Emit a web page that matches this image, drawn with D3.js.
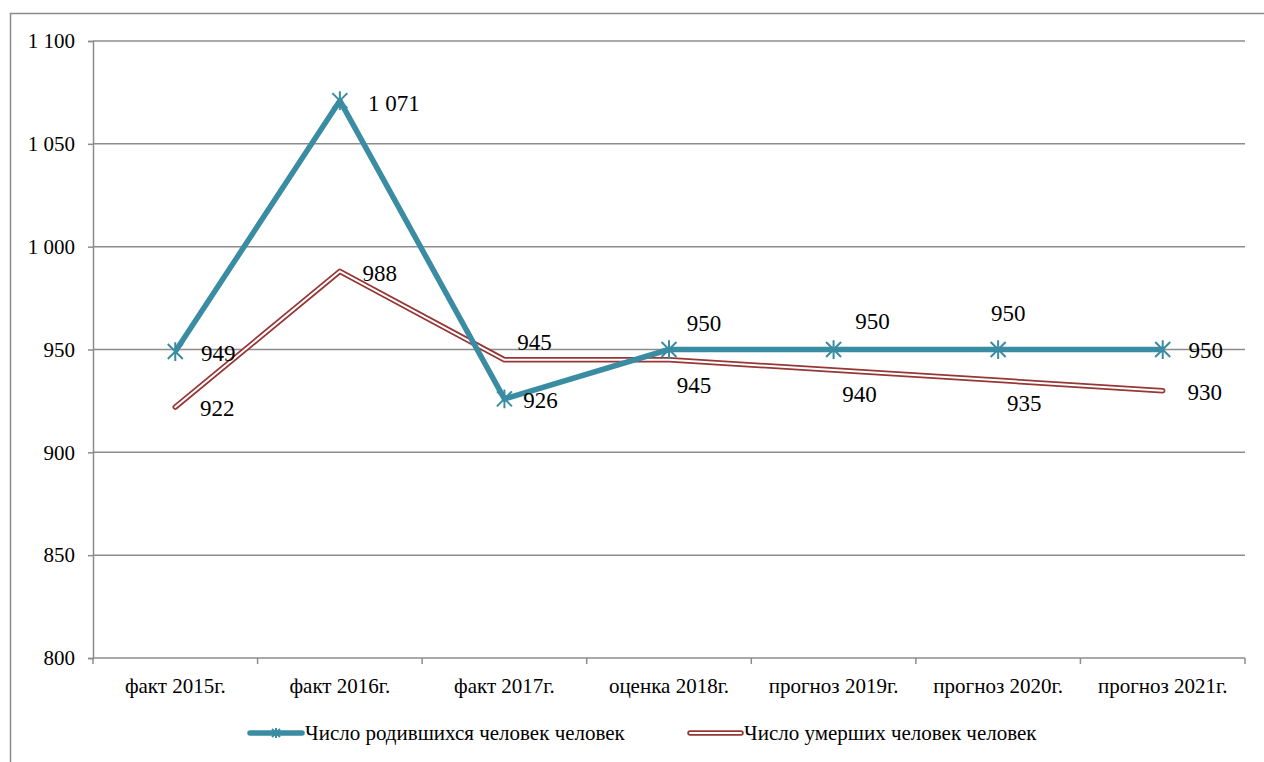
<!DOCTYPE html>
<html>
<head>
<meta charset="utf-8">
<script src="https://cdn.jsdelivr.net/npm/d3@7"></script>
<style>
  body { margin: 0; background: #fff; }
  svg text { font-family: "Liberation Serif", "Times New Roman", serif; fill: #000; }
</style>
</head>
<body>
<svg id="chart" width="1264" height="762"></svg>
<script>
var categories = ['факт 2015г.', 'факт 2016г.', 'факт 2017г.', 'оценка 2018г.', 'прогноз 2019г.', 'прогноз 2020г.', 'прогноз 2021г.'];
var births = [949, 1071, 926, 950, 950, 950, 950];
var deaths = [922, 988, 945, 945, 940, 935, 930];
var yTicks = [800, 850, 900, 950, 1000, 1050, 1100];
var seriesNames = ['Число родившихся человек человек', 'Число умерших человек человек'];

// label placement relative to each point: [dx, dy] from point to label centre
var birthLabelOffsets = [[43, 1], [54, 2], [36, 1], [35, -27], [39, -29], [10, -37], [43, 0]];
var deathLabelOffsets = [[42, 1], [40, 2], [30, -18], [25, 25], [26, 24], [26, 23], [42, 1]];

var blue = '#3a8ca2';
var red = '#953735';

var margin = { left: 93, top: 41, right: 1245, bottom: 658 };

var svg = d3.select('#chart');

// outer chart border (runs off the right and bottom edges)
svg.append('rect')
    .attr('x', 10.5).attr('y', 13.5)
    .attr('width', 1300).attr('height', 800)
    .attr('fill', 'none').attr('stroke', '#8c8c8c').attr('stroke-width', 1.5);

var x = d3.scaleBand().domain(categories).range([margin.left, margin.right]);
var y = d3.scaleLinear().domain([800, 1100]).range([margin.bottom, margin.top]);

function fmt(v) {
    var s = String(v);
    return s.length > 3 ? s.slice(0, s.length - 3) + ' ' + s.slice(-3) : s;
}

// gridlines
svg.append('g').selectAll('line').data(yTicks.slice(1)).enter().append('line')
    .attr('x1', margin.left).attr('x2', margin.right)
    .attr('y1', function (d) { return y(d); }).attr('y2', function (d) { return y(d); })
    .attr('stroke', '#8c8c8c').attr('stroke-width', 1.5);

// y axis
var yAxis = svg.append('g').attr('transform', 'translate(' + margin.left + ',0)')
    .call(d3.axisLeft(y).tickValues(yTicks).tickSize(5).tickPadding(13).tickFormat(fmt));
yAxis.attr('font-family', null);
yAxis.select('.domain').attr('stroke', '#8c8c8c').attr('stroke-width', 1.5);
yAxis.selectAll('.tick line').attr('stroke', '#8c8c8c').attr('stroke-width', 1.5);
yAxis.selectAll('.tick text').attr('font-size', 21).attr('fill', '#000');

// x axis with ticks between categories
var xAxis = svg.append('g').attr('transform', 'translate(0,' + margin.bottom + ')');
xAxis.append('line')
    .attr('x1', margin.left).attr('x2', margin.right)
    .attr('stroke', '#8c8c8c').attr('stroke-width', 1.5);
var bounds = categories.map(function (c) { return x(c); }).concat([margin.right]);
xAxis.selectAll('.xt').data(bounds).enter().append('line')
    .attr('x1', function (d) { return d; }).attr('x2', function (d) { return d; })
    .attr('y1', 0).attr('y2', 6)
    .attr('stroke', '#8c8c8c').attr('stroke-width', 1.5);
xAxis.selectAll('text').data(categories).enter().append('text')
    .attr('x', function (d) { return x(d) + x.bandwidth() / 2; })
    .attr('y', 35)
    .attr('text-anchor', 'middle')
    .attr('font-size', 21)
    .text(function (d) { return d; });

function cx(i) { return x(categories[i]) + x.bandwidth() / 2; }

var line = d3.line()
    .x(function (d, i) { return cx(i); })
    .y(function (d) { return y(d); });

// deaths: double line
svg.append('path').datum(deaths).attr('d', line)
    .attr('fill', 'none').attr('stroke', red).attr('stroke-width', 5.5)
    .attr('stroke-linejoin', 'round').attr('stroke-linecap', 'round');
svg.append('path').datum(deaths).attr('d', line)
    .attr('fill', 'none').attr('stroke', '#fff').attr('stroke-width', 2)
    .attr('stroke-linejoin', 'round').attr('stroke-linecap', 'round');

// births: thick line with star markers
svg.append('path').datum(births).attr('d', line)
    .attr('fill', 'none').attr('stroke', blue).attr('stroke-width', 5.5)
    .attr('stroke-linejoin', 'round');

function star(g, px, py, r) {
    return g.append('path')
        .attr('d', 'M' + (px - r) + ',' + (py - r) + 'L' + (px + r) + ',' + (py + r) +
                   'M' + (px - r) + ',' + (py + r) + 'L' + (px + r) + ',' + (py - r) +
                   'M' + px + ',' + (py - r * 1.25) + 'L' + px + ',' + (py + r * 1.25))
        .attr('stroke', blue).attr('stroke-width', 2).attr('fill', 'none');
}

var markers = svg.append('g');
births.forEach(function (d, i) { star(markers, cx(i), y(d), 7.5); });

// data labels
function labels(data, offsets) {
    svg.append('g').selectAll('text').data(data).enter().append('text')
        .attr('x', function (d, i) { return cx(i) + offsets[i][0]; })
        .attr('y', function (d, i) { return y(d) + offsets[i][1]; })
        .attr('dy', '0.35em')
        .attr('text-anchor', 'middle')
        .attr('font-size', 23)
        .text(function (d) { return fmt(d); });
}
labels(births, birthLabelOffsets);
labels(deaths, deathLabelOffsets);

// legend
var legend = svg.append('g').attr('transform', 'translate(0,733)');
legend.append('line').attr('x1', 250).attr('x2', 302).attr('y1', 0).attr('y2', 0)
    .attr('stroke', blue).attr('stroke-width', 5.5).attr('stroke-linecap', 'round');
star(legend, 276, 0, 4);
legend.append('text').attr('x', 305).attr('y', 0).attr('dy', '0.35em')
    .attr('font-size', 21).text(seriesNames[0]);

legend.append('line').attr('x1', 690).attr('x2', 741).attr('y1', 0).attr('y2', 0)
    .attr('stroke', red).attr('stroke-width', 5.5).attr('stroke-linecap', 'round');
legend.append('line').attr('x1', 690).attr('x2', 741).attr('y1', 0).attr('y2', 0)
    .attr('stroke', '#fff').attr('stroke-width', 2).attr('stroke-linecap', 'round');
legend.append('text').attr('x', 744).attr('y', 0).attr('dy', '0.35em')
    .attr('font-size', 21).text(seriesNames[1]);
</script>
</body>
</html>
